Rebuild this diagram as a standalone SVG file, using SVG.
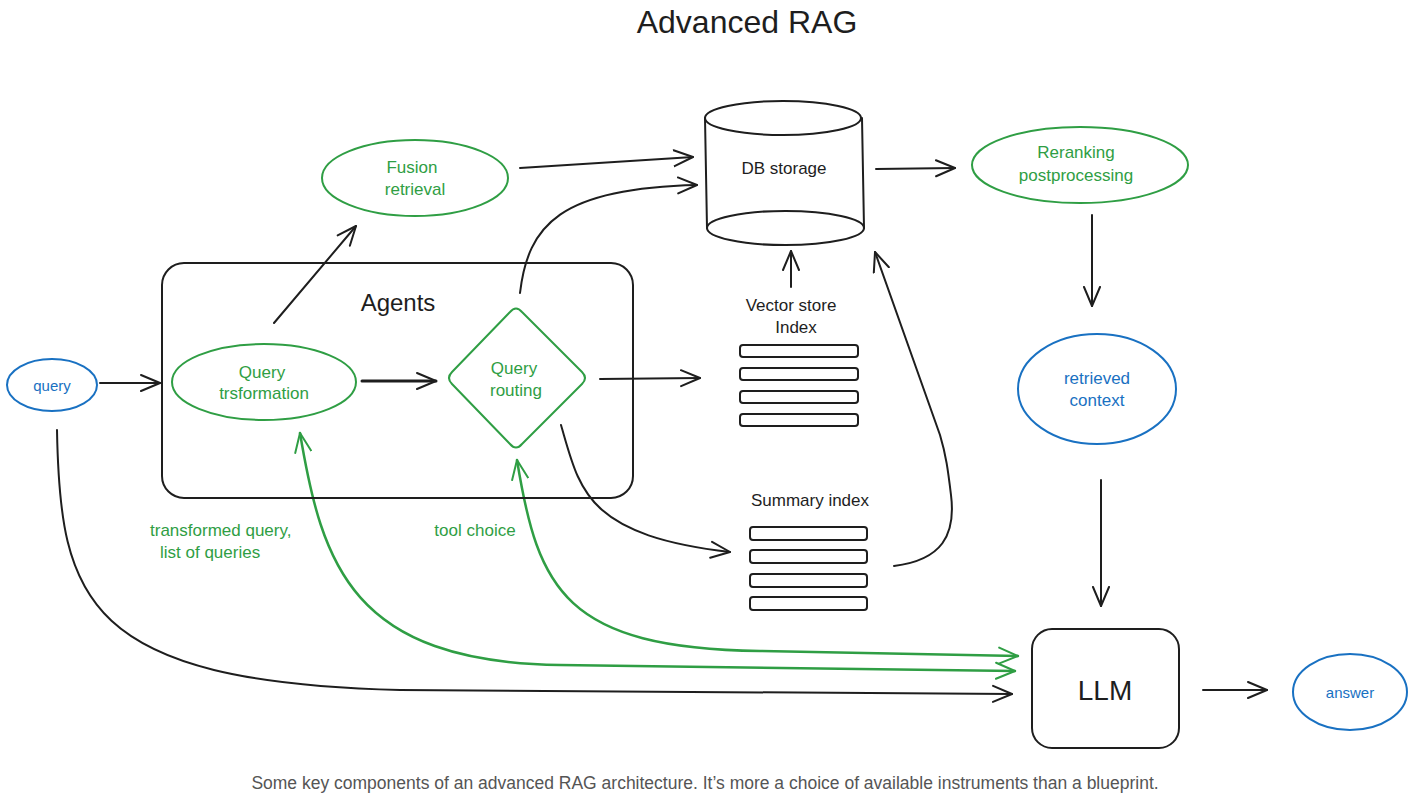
<svg xmlns="http://www.w3.org/2000/svg" width="1421" height="802" viewBox="0 0 1421 802">
<defs>
<style>
.k{fill:none;stroke:#1e1e1e;stroke-width:2;stroke-linecap:round;stroke-linejoin:round}
.g{fill:none;stroke:#2f9e44;stroke-width:2;stroke-linecap:round;stroke-linejoin:round}
.b{fill:none;stroke:#1971c2;stroke-width:2}
.t{font-family:"Liberation Sans",Arial,sans-serif;font-size:17px;fill:#1e1e1e;text-anchor:middle}
.tg{font-family:"Liberation Sans",Arial,sans-serif;font-size:17px;fill:#2f9e44;text-anchor:middle}
.tb{font-family:"Liberation Sans",Arial,sans-serif;font-size:17px;fill:#1971c2;text-anchor:middle}
.bar{fill:#fff;stroke:#1e1e1e;stroke-width:2}
</style>
<marker id="ak" viewBox="0 0 22 22" markerWidth="22" markerHeight="22" refX="20" refY="11" orient="auto-start-reverse" markerUnits="userSpaceOnUse">
<path d="M1,3 L20,11 L1,19" fill="none" stroke="#1e1e1e" stroke-width="2" stroke-linecap="round" stroke-linejoin="round"/>
</marker>
<marker id="ag" viewBox="0 0 22 22" markerWidth="22" markerHeight="22" refX="20" refY="11" orient="auto-start-reverse" markerUnits="userSpaceOnUse">
<path d="M1,3 L20,11 L1,19" fill="none" stroke="#2f9e44" stroke-width="2" stroke-linecap="round" stroke-linejoin="round"/>
</marker>
</defs>
<rect width="1421" height="802" fill="#fff"/>
<text id="title" x="747" y="33" class="t" style="font-size:32px">Advanced RAG</text>

<g id="connectors">
<path class="k" d="M100,383 L160,383" marker-end="url(#ak)"/>
<path class="k" d="M362,381 L436,381" marker-end="url(#ak)" style="stroke-width:3"/>
<path class="k" d="M274,323 L356,226" marker-end="url(#ak)"/>
<path class="k" d="M520,168 L693,157" marker-end="url(#ak)"/>
<path class="k" d="M520,293 C528,225 560,188 697,185" marker-end="url(#ak)"/>
<path class="k" d="M600,379 L700,378" marker-end="url(#ak)"/>
<path class="k" d="M561,425 C580,490 585,535 730,552" marker-end="url(#ak)"/>
<path class="k" d="M791,287 L791,251" marker-end="url(#ak)"/>
<path class="k" d="M894,566 C942,560 956,535 951,495 C948,470 946,455 940,435 L875,252" marker-end="url(#ak)"/>
<path class="k" d="M876,169 L955,168" marker-end="url(#ak)"/>
<path class="k" d="M1092,215 L1092,306" marker-end="url(#ak)"/>
<path class="k" d="M1101,480 L1101,606" marker-end="url(#ak)"/>
<path class="k" d="M1203,690 L1267,690" marker-end="url(#ak)"/>
<path class="k" d="M57,430 C60,600 85,682 400,690 L1012,694" marker-end="url(#ak)"/>
<path class="g" d="M300,433 C322,565 352,662 560,665 L1015,671" marker-start="url(#ag)" marker-end="url(#ag)" style="stroke-width:2.5"/>
<path class="g" d="M517,460 C538,590 565,648 760,651 L1018,656" marker-start="url(#ag)" marker-end="url(#ag)" style="stroke-width:2.5"/>
</g>

<g id="agents">
<rect class="k" x="162" y="263" width="471" height="235" rx="22"/>
<text class="t" x="398" y="311" style="font-size:24px">Agents</text>
</g>

<g id="query">
<ellipse class="b" cx="52" cy="385" rx="45" ry="26"/>
<text class="tb" x="52" y="391" style="font-size:15px">query</text>
</g>

<g id="query-transformation">
<ellipse class="g" cx="264" cy="382" rx="92" ry="38"/>
<text class="tg" x="262" y="378">Query</text>
<text class="tg" x="264" y="399">trsformation</text>
</g>

<g id="query-routing">
<path class="g" d="M510,312 Q516,305 522,312 L582,372 Q588,378 582,384 L522,444 Q516,451 510,444 L452,384 Q446,378 452,372 Z"/>
<text class="tg" x="514" y="374">Query</text>
<text class="tg" x="516" y="396">routing</text>
</g>

<g id="fusion-retrieval">
<ellipse class="g" cx="415" cy="178" rx="93" ry="38"/>
<text class="tg" x="412" y="173">Fusion</text>
<text class="tg" x="415" y="195">retrieval</text>
</g>

<g id="db-storage">
<path class="k" d="M705,118 L707,228 M862,118 L864,228"/>
<ellipse class="k" cx="783" cy="118" rx="78" ry="17" fill="#fff"/>
<path class="k" d="M707,228 A78,17 0 0 0 864,228 A78,17 0 0 0 707,228"/>
<text class="t" x="784" y="174">DB storage</text>
</g>

<g id="reranking">
<ellipse class="g" cx="1080" cy="165" rx="108" ry="38"/>
<text class="tg" x="1076" y="158">Reranking</text>
<text class="tg" x="1076" y="181">postprocessing</text>
</g>

<g id="vector-store">
<text class="t" x="791" y="311">Vector store</text>
<text class="t" x="796" y="333">Index</text>
<rect class="bar" x="740" y="345" width="118" height="12" rx="3"/>
<rect class="bar" x="740" y="368" width="118" height="12" rx="3"/>
<rect class="bar" x="740" y="391" width="118" height="12" rx="3"/>
<rect class="bar" x="740" y="414" width="118" height="12" rx="3"/>
</g>

<g id="summary-index">
<text class="t" x="810" y="506">Summary index</text>
<rect class="bar" x="750" y="527" width="117" height="13" rx="3"/>
<rect class="bar" x="750" y="550" width="117" height="13" rx="3"/>
<rect class="bar" x="750" y="574" width="117" height="13" rx="3"/>
<rect class="bar" x="750" y="597" width="117" height="13" rx="3"/>
</g>

<g id="retrieved-context">
<ellipse class="b" cx="1097" cy="389" rx="79" ry="55"/>
<text class="tb" x="1097" y="384">retrieved</text>
<text class="tb" x="1097" y="406">context</text>
</g>

<g id="llm">
<rect class="k" x="1032" y="629" width="147" height="119" rx="20"/>
<text class="t" x="1105" y="700" style="font-size:28px">LLM</text>
</g>

<g id="answer">
<ellipse class="b" cx="1350" cy="692" rx="57" ry="38"/>
<text class="tb" x="1350" y="698" style="font-size:15px">answer</text>
</g>

<g id="labels">
<text class="tg" x="150" y="536" style="text-anchor:start">transformed query,</text>
<text class="tg" x="160" y="558" style="text-anchor:start">list of queries</text>
<text class="tg" x="475" y="536">tool choice</text>
</g>

<text id="caption" x="705" y="789" style="font-family:'Liberation Sans',Arial,sans-serif;font-size:17.5px;fill:#555555;text-anchor:middle">Some key components of an advanced RAG architecture. It’s more a choice of available instruments than a blueprint.</text>
</svg>
